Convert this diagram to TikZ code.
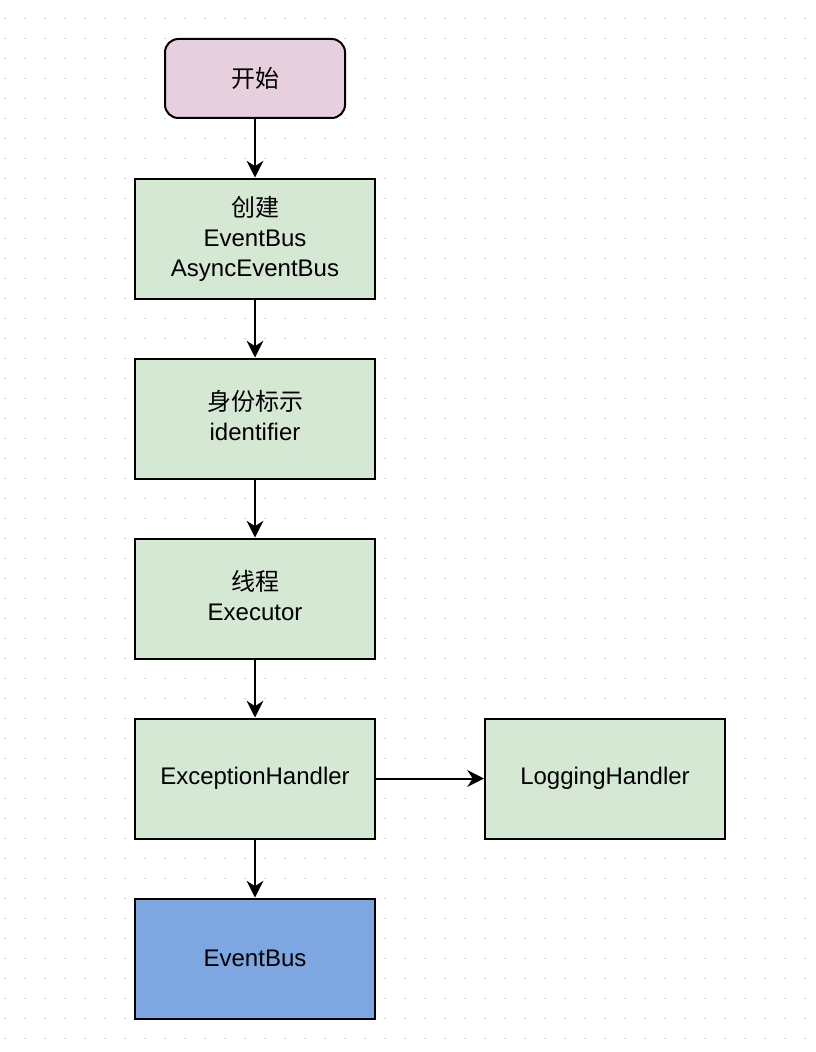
\documentclass[tikz,border=0pt]{standalone}
\usepackage{fontspec}
\setmainfont{Liberation Sans}
\newfontfamily\cjk{Noto Sans CJK SC}
\usetikzlibrary{arrows.meta}
\definecolor{startfill}{HTML}{E6D0DE}
\definecolor{greenfill}{HTML}{D5E8D4}
\definecolor{bluefill}{HTML}{7EA6E0}
\definecolor{dotcol}{HTML}{D0D0D0}
\begin{document}
\begin{tikzpicture}[x=0.75pt,y=-0.75pt,
  every node/.style={font=\fontsize{18pt}{22.5pt}\selectfont, align=center, inner sep=0pt},
  stepbox/.style={draw=black, line width=1.5pt, fill=greenfill, minimum width=180pt, minimum height=90pt},
  startbox/.style={draw=black, line width=1.5pt, fill=startfill, rounded corners=10pt, minimum width=135pt, minimum height=59.25pt},
  endbox/.style={stepbox, fill=bluefill},
  conn/.style={line width=1.5pt, -{Stealth[length=12.5pt,width=12.5pt,inset=4pt]}}]
\useasboundingbox (0,0) rectangle (816,1052);
\fill[white] (0,0) rectangle (816,1052);
\foreach \i in {0,...,40} {
  \foreach \j in {0,...,52} {
    \fill[dotcol] ({5+20*\i-0.7},{18.5+20*\j-0.7}) rectangle ++(1.4,1.4);
  }
}
\node[startbox] (start) at (255,78.5) {\cjk 开始};
\node[stepbox] (create) at (255,238.5) {{\cjk 创建}\\EventBus\\AsyncEventBus};
\node[stepbox] (ident) at (255,418.5) {};
\node (identtxt) at ([yshift=2pt]ident.center) {{\cjk 身份标示}\\identifier};
\node[stepbox] (thread) at (255,598.5) {};
\node (threadtxt) at ([yshift=2pt]thread.center) {{\cjk 线程}\\Executor};
\node[stepbox] (exc) at (255,778.5) {ExceptionHandler};
\node[stepbox] (log) at (605,778.5) {LoggingHandler};
\node[endbox] (bus) at (255,958.5) {EventBus};
\draw[conn] (start) -- (create);
\draw[conn] (create) -- (ident);
\draw[conn] (ident) -- (thread);
\draw[conn] (thread) -- (exc);
\draw[conn] (exc) -- (log);
\draw[conn] (exc) -- (bus);
\end{tikzpicture}
\end{document}
